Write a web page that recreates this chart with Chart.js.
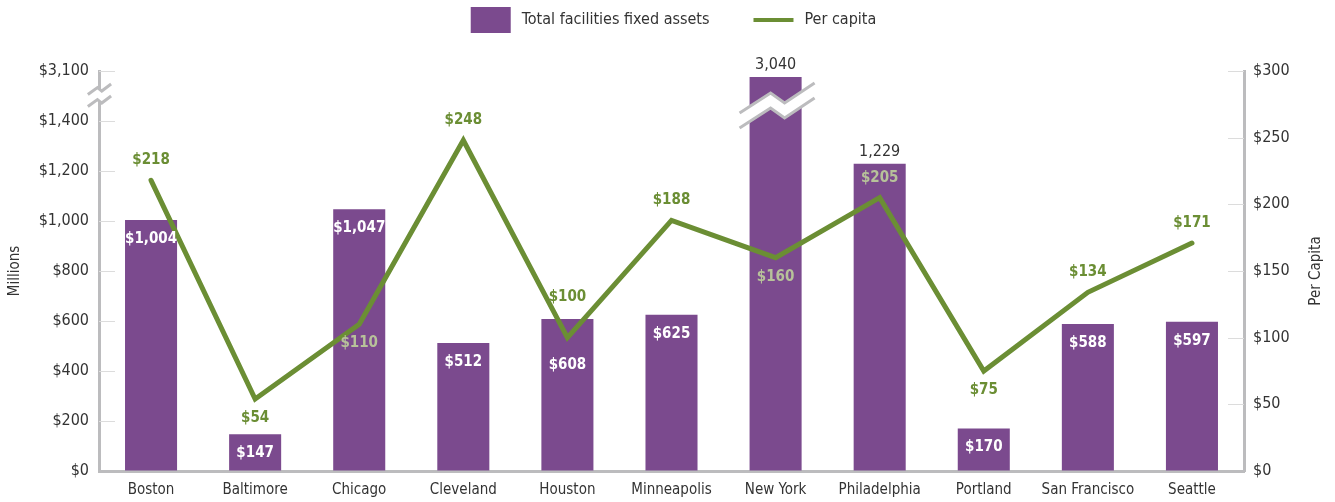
<!DOCTYPE html>
<html>
<head>
<meta charset="utf-8">
<script src="https://cdn.jsdelivr.net/npm/chart.js@4.4.1/dist/chart.umd.min.js"></script>
<style>
  html, body { margin: 0; padding: 0; background: #fff; }
  #wrap { width: 1335px; height: 502px; }
</style>
</head>
<body>
<div id="wrap"><canvas id="myChart" width="1335" height="502"></canvas></div>
<script>
const cities = ['Boston', 'Baltimore', 'Chicago', 'Cleveland', 'Houston', 'Minneapolis',
  'New York', 'Philadelphia', 'Portland', 'San Francisco', 'Seattle'];

// Millions of dollars
const facilityAssets = [1004, 147, 1047, 512, 608, 625, 3040, 1229, 170, 588, 597];
// Dollars per resident
const perCapita = [218, 54, 110, 248, 100, 188, 160, 205, 75, 134, 171];

// Left axis is broken: the top tick stands for $3,100
const leftTicks = [0, 200, 400, 600, 800, 1000, 1200, 1400, 1600];
const leftTickLabels = ['$0', '$200', '$400', '$600', '$800', '$1,000', '$1,200', '$1,400', '$3,100'];
const rightTicks = [0, 50, 100, 150, 200, 250, 300];
const rightTickLabels = ['$0', '$50', '$100', '$150', '$200', '$250', '$300'];

// which side of the line point the per capita label sits on
const perCapitaLabelSide = ['above', 'below', 'below', 'above', 'above', 'above',
  'below', 'above', 'below', 'above', 'above'];

const PURPLE = '#7b4a8e';
const GREEN = '#6b8e34';
const LIGHT_GREEN = '#b7c29a';
const AXIS_GRAY = '#bcbcbe';
const FONT = "'Liberation Sans Narrow', 'DejaVu Sans Condensed', sans-serif";

Chart.defaults.font.family = FONT;
Chart.defaults.color = '#333';

const fmt = v => v.toLocaleString('en-US');

// zigzag break symbol (two parallel strokes with white between)
function drawBreak(c, cx, cy, sx, sy, gap) {
  const pts = [[-36, 13], [-5, -7], [9, 3], [39, -17]];
  const top = pts.map(p => [cx + p[0] * sx, cy + p[1] * sy - gap / 2]);
  const bot = pts.map(p => [cx + p[0] * sx, cy + p[1] * sy + gap / 2]);
  c.save();
  c.beginPath();
  top.forEach((p, i) => i ? c.lineTo(p[0], p[1]) : c.moveTo(p[0], p[1]));
  bot.slice().reverse().forEach(p => c.lineTo(p[0], p[1]));
  c.closePath();
  c.fillStyle = '#fff';
  c.fill();
  c.strokeStyle = AXIS_GRAY;
  c.lineWidth = 3;
  [top, bot].forEach(line => {
    c.beginPath();
    line.forEach((p, i) => i ? c.lineTo(p[0], p[1]) : c.moveTo(p[0], p[1]));
    c.stroke();
  });
  c.restore();
}

const decorations = {
  id: 'decorations',
  beforeDatasetsDraw(chart) {
    const c = chart.ctx;
    const y = chart.scales.y, y1 = chart.scales.y1;
    const area = chart.chartArea;
    c.save();
    c.strokeStyle = '#dcdcdc';
    c.lineWidth = 1;
    leftTicks.forEach(v => {
      if (v === 0) return;
      const py = Math.round(y.getPixelForValue(v)) + 0.5;
      c.beginPath(); c.moveTo(area.left, py); c.lineTo(area.left + 16, py); c.stroke();
    });
    rightTicks.forEach(v => {
      if (v === 0) return;
      const py = Math.round(y1.getPixelForValue(v)) + 0.5;
      c.beginPath(); c.moveTo(area.right - 16, py); c.lineTo(area.right, py); c.stroke();
    });
    c.restore();
  },
  afterDatasetsDraw(chart) {
    const c = chart.ctx;
    const y = chart.scales.y;
    const area = chart.chartArea;
    const bars = chart.getDatasetMeta(1).data;
    const pts = chart.getDatasetMeta(0).data;

    // break marks
    drawBreak(c, area.left, y.getPixelForValue(1500), 0.31, 0.35, 12);
    const ny = cities.indexOf('New York');
    drawBreak(c, bars[ny].x, y.getPixelForValue(1454), 1, 1, 15);

    c.save();
    c.textAlign = 'center';
    c.textBaseline = 'middle';

    // bar labels
    facilityAssets.forEach((v, i) => {
      const b = bars[i];
      const barTop = Math.max(b.y, area.top + 6);
      if (v > 1200) {
        c.font = '16px ' + FONT;
        c.fillStyle = '#333';
        c.fillText(fmt(v), b.x, barTop - 12);
        return;
      }
      let ly = barTop + 19;
      if (Math.abs(ly - pts[i].y) < 16) ly = pts[i].y + 27;
      c.font = 'bold 15px ' + FONT;
      c.fillStyle = '#fff';
      c.fillText('$' + fmt(v), b.x, ly);
    });

    // per capita labels
    perCapita.forEach((v, i) => {
      const p = pts[i], b = bars[i];
      const barTop = Math.max(b.y, area.top + 6);
      let ly = perCapitaLabelSide[i] === 'above' ? p.y - 20 : p.y + 19;
      // keep a label from sitting across the top edge of a bar
      if (ly - 8 < barTop && ly + 8 > barTop) ly = barTop - 22;
      const inBar = ly - 8 > barTop;
      c.font = 'bold 15px ' + FONT;
      c.fillStyle = inBar ? LIGHT_GREEN : GREEN;
      c.fillText('$' + v, p.x, ly);
    });
    c.restore();

    // right axis title, reading bottom to top
    c.save();
    c.font = '15px ' + FONT;
    c.fillStyle = '#333';
    c.textAlign = 'center';
    c.textBaseline = 'middle';
    c.translate(1316, (area.top + area.bottom) / 2);
    c.rotate(-Math.PI / 2);
    c.fillText('Per Capita', 0, 0);
    c.restore();

    // legend
    c.save();
    c.font = '16px ' + FONT;
    c.textBaseline = 'middle';
    const t1 = 'Total facilities fixed assets', t2 = 'Per capita';
    const w = 40 + 11 + c.measureText(t1).width + 44 + 40 + 11 + c.measureText(t2).width;
    let lx = (area.left + area.right) / 2 - w / 2 + 2;
    const cy = 20;
    c.fillStyle = PURPLE;
    c.fillRect(lx, 7, 40, 26);
    lx += 51;
    c.fillStyle = '#333';
    c.fillText(t1, lx, cy);
    lx += c.measureText(t1).width + 44;
    c.strokeStyle = GREEN;
    c.lineWidth = 4;
    c.beginPath(); c.moveTo(lx, cy); c.lineTo(lx + 40, cy); c.stroke();
    lx += 51;
    c.fillText(t2, lx, cy);
    c.restore();
  }
};

const ctx = document.getElementById('myChart').getContext('2d');

const myChart = new Chart(ctx, {
  type: 'bar',
  data: {
    labels: cities,
    datasets: [{
      type: 'line',
      label: 'Per capita',
      data: perCapita,
      yAxisID: 'y1',
      borderColor: GREEN,
      backgroundColor: GREEN,
      borderWidth: 5,
      borderCapStyle: 'round',
      borderJoinStyle: 'miter',
      pointRadius: 0,
      tension: 0,
      order: 0
    }, {
      type: 'bar',
      label: 'Total facilities fixed assets',
      data: facilityAssets,
      yAxisID: 'y',
      backgroundColor: PURPLE,
      barPercentage: 0.5,
      categoryPercentage: 1,
      clip: { left: 0, top: -6, right: 0, bottom: 0 },
      order: 1
    }]
  },
  options: {
    responsive: false,
    animation: false,
    layout: { padding: { top: 71, left: 0, right: 0, bottom: 0 } },
    plugins: {
      legend: { display: false },
      tooltip: { enabled: false }
    },
    scales: {
      x: {
        grid: { drawOnChartArea: false, drawTicks: false },
        border: { color: AXIS_GRAY, width: 3 },
        ticks: { color: '#333', font: { size: 15 }, padding: 10, maxRotation: 0, autoSkip: false },
        afterFit: s => { s.height = 31; }
      },
      y: {
        position: 'left',
        min: 0,
        max: 1600,
        afterBuildTicks: s => { s.ticks = leftTicks.map(v => ({ value: v })); },
        grid: { drawOnChartArea: false, drawTicks: false },
        border: { color: AXIS_GRAY, width: 3 },
        ticks: {
          color: '#333',
          font: { size: 16 },
          padding: 10,
          callback: (v, i) => leftTickLabels[i]
        },
        title: { display: true, text: 'Millions', color: '#333', font: { size: 15 }, padding: { top: 6, bottom: 0 } },
        afterFit: s => { s.width = 99; }
      },
      y1: {
        position: 'right',
        min: 0,
        max: 300,
        afterBuildTicks: s => { s.ticks = rightTicks.map(v => ({ value: v })); },
        grid: { drawOnChartArea: false, drawTicks: false },
        border: { color: AXIS_GRAY, width: 3 },
        ticks: {
          color: '#333',
          font: { size: 16 },
          padding: 9,
          callback: (v, i) => rightTickLabels[i]
        },
        afterFit: s => { s.width = 91; }
      }
    }
  },
  plugins: [decorations]
});
</script>
</body>
</html>
